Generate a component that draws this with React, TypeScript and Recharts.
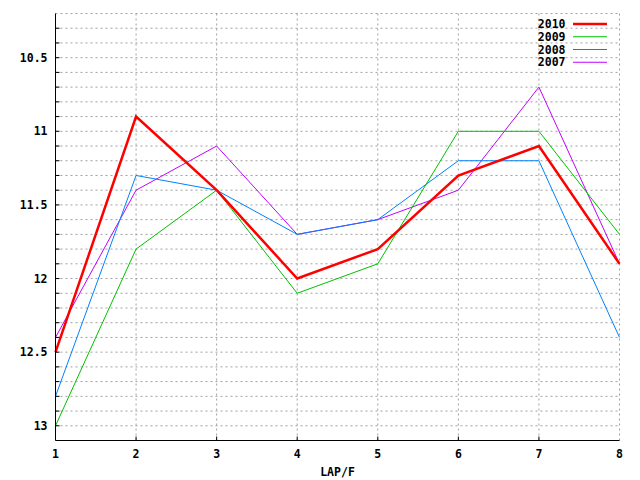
import React from 'react';
import { LineChart, Line, XAxis, YAxis, CartesianGrid, Label } from 'recharts';

const laps = [1, 2, 3, 4, 5, 6, 7, 8];
const s2010 = [12.5, 10.9, 11.4, 12.0, 11.8, 11.3, 11.1, 11.9];
const s2009 = [13.0, 11.8, 11.4, 12.1, 11.9, 11.0, 11.0, 11.7];
const s2008 = [12.8, 11.3, 11.4, 11.7, 11.6, 11.2, 11.2, 12.4];
const s2007 = [12.4, 11.4, 11.1, 11.7, 11.6, 11.4, 10.7, 11.9];

const seriesNames = ['2010', '2009', '2008', '2007'];
const seriesColors = ['#ff0000', '#00c000', '#0080ff', '#c000ff'];
const seriesWidths = [2.5, 1, 1, 1];
const seriesValues = [s2010, s2009, s2008, s2007];

const yTicks = [
  10.3, 10.4, 10.5, 10.6, 10.7, 10.8, 10.9, 11.0, 11.1, 11.2, 11.3, 11.4, 11.5, 11.6,
  11.7, 11.8, 11.9, 12.0, 12.1, 12.2, 12.3, 12.4, 12.5, 12.6, 12.7, 12.8, 12.9, 13.0,
];
const yLabelValues = [10.5, 11, 11.5, 12, 12.5, 13];
const yLabelTexts = ['10.5', '11', '11.5', '12', '12.5', '13'];
const xTicks = [1, 2, 3, 4, 5, 6, 7, 8];
const xTickLabels = ['1', '2', '3', '4', '5', '6', '7', '8'];
const yDomain = [10.2, 13.1];
const xLabel = 'LAP/F';

const data = laps.map((lap, i) => {
  const row: any = { lap };
  seriesNames.forEach((n, k) => {
    row[n] = seriesValues[k][i];
  });
  return row;
});

const FONT = '"DejaVu Sans Mono", monospace';
const TICK_LEN = 4;

const labelFor = (v: number) => {
  const idx = yLabelValues.findIndex((l) => Math.abs(l - v) < 1e-6);
  return idx >= 0 ? yLabelTexts[idx] : null;
};

const LeftTick = (props: any) => {
  const { x, y, payload } = props;
  const lbl = labelFor(payload.value);
  return (
    <g>
      <line x1={x} x2={x + TICK_LEN} y1={y} y2={y} stroke="#000" strokeWidth={1} />
      {lbl && (
        <text x={x - 8} y={y + 4} textAnchor="end" fontFamily={FONT} fontWeight="bold" fontSize={11.5} fill="#000">
          {lbl}
        </text>
      )}
    </g>
  );
};

const RightTick = (props: any) => {
  const { x, y } = props;
  return <line x1={x - TICK_LEN} x2={x} y1={y} y2={y} stroke="#000" strokeWidth={1} />;
};

const BottomTick = (props: any) => {
  const { x, y, index } = props;
  const inner = index > 0 && index < xTicks.length - 1;
  return (
    <g>
      {inner && <line x1={x} x2={x} y1={y - TICK_LEN} y2={y} stroke="#000" strokeWidth={1} />}
      <text x={x} y={y + 17} textAnchor="middle" fontFamily={FONT} fontWeight="bold" fontSize={11.5} fill="#000">
        {xTickLabels[index]}
      </text>
    </g>
  );
};

const TopTick = (props: any) => {
  const { x, y, index } = props;
  const inner = index > 0 && index < xTicks.length - 1;
  return inner ? <line x1={x} x2={x} y1={y} y2={y + TICK_LEN} stroke="#000" strokeWidth={1} /> : <g />;
};

const XTitle = (props: any) => {
  const vb = props.viewBox || {};
  return (
    <text
      x={vb.x + vb.width / 2}
      y={vb.y + vb.height - 4}
      textAnchor="middle"
      fontFamily={FONT}
      fontWeight="bold"
      fontSize={11.5}
      fill="#000"
    >
      {xLabel}
    </text>
  );
};

export default function App() {
  return (
    <div style={{ position: 'absolute', left: 0, top: 0, width: 640, height: 480, background: '#fff', overflow: 'hidden' }}>
      <LineChart width={640} height={480} data={data} margin={{ top: 13.5, right: 20.5, bottom: 0, left: 0 }}>
        <CartesianGrid stroke="#a0a0a0" strokeDasharray="2 3" strokeWidth={1} />
        <XAxis
          dataKey="lap"
          type="number"
          domain={[1, 8]}
          ticks={xTicks}
          height={39.5}
          tickSize={0}
          tickMargin={0}
          tickLine={false}
          axisLine={{ stroke: '#000', strokeWidth: 1 }}
          tick={<BottomTick />}
          interval={0}
        >
          <Label content={<XTitle />} />
        </XAxis>
        <XAxis
          xAxisId="top"
          orientation="top"
          dataKey="lap"
          type="number"
          domain={[1, 8]}
          ticks={xTicks}
          height={0}
          tickSize={0}
          tickMargin={0}
          tickLine={false}
          axisLine={{ stroke: '#000', strokeWidth: 1 }}
          tick={<TopTick />}
          interval={0}
        />
        <YAxis
          type="number"
          reversed
          domain={yDomain}
          ticks={yTicks}
          allowDataOverflow
          width={55.5}
          tickSize={0}
          tickMargin={0}
          tickLine={false}
          axisLine={{ stroke: '#000', strokeWidth: 1 }}
          tick={<LeftTick />}
          interval={0}
        />
        <YAxis
          yAxisId="right"
          orientation="right"
          type="number"
          reversed
          domain={yDomain}
          ticks={yTicks}
          allowDataOverflow
          width={0}
          tickSize={0}
          tickMargin={0}
          tickLine={false}
          axisLine={{ stroke: '#000', strokeWidth: 1 }}
          tick={<RightTick />}
          interval={0}
        />
        {seriesNames
          .map((n, k) => (
            <Line
              key={n}
              type="linear"
              dataKey={n}
              stroke={seriesColors[k]}
              strokeWidth={seriesWidths[k]}
              dot={false}
              activeDot={false}
              isAnimationActive={false}
            />
          ))
          .reverse()}
      </LineChart>
      <svg width={640} height={80} style={{ position: 'absolute', left: 0, top: 0, pointerEvents: 'none' }}>
        {seriesNames.map((n, k) => (
          <g key={n}>
            <text x={565.5} y={28 + k * 12.75} textAnchor="end" fontFamily={FONT} fontWeight="bold" fontSize={11.5} fill="#000">
              {n}
            </text>
            <line x1={573} x2={607} y1={24 + k * 12.75} y2={24 + k * 12.75} stroke={seriesColors[k]} strokeWidth={seriesWidths[k]} />
          </g>
        ))}
      </svg>
    </div>
  );
}
